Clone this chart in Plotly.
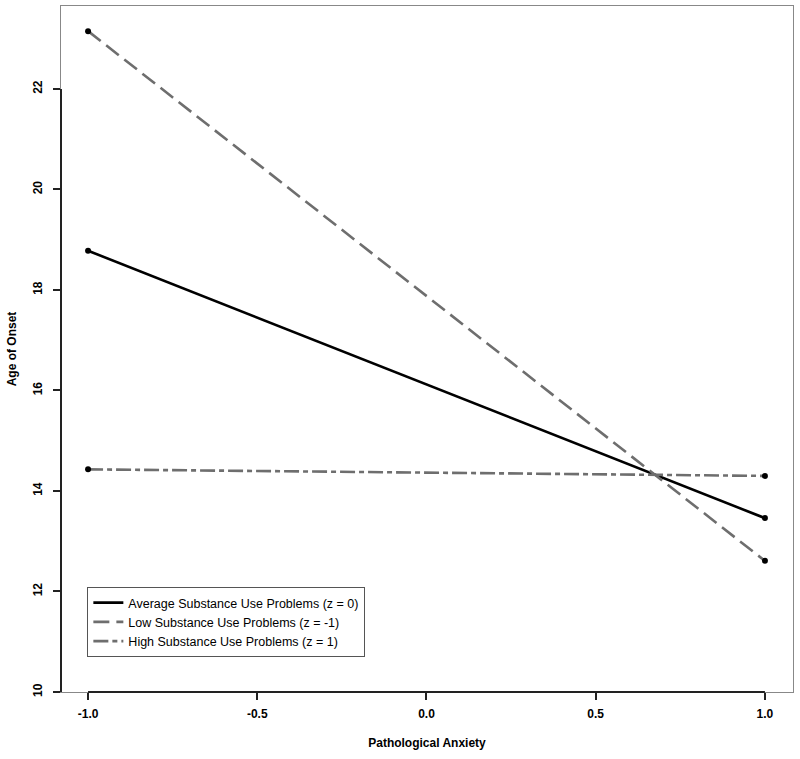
import plotly.graph_objects as go

x_vals = [-1.0, 1.0]
avg_vals = [18.78, 13.46]
low_vals = [23.15, 12.61]
high_vals = [14.43, 14.30]
series_names = ["Average Substance Use Problems (z = 0)",
                "Low Substance Use Problems (z = -1)",
                "High Substance Use Problems (z = 1)"]
x_ticks = [-1.0, -0.5, 0.0, 0.5, 1.0]
x_ticklabels = ["-1.0", "-0.5", "0.0", "0.5", "1.0"]
y_ticks = [10, 12, 14, 16, 18, 20, 22]
y_ticklabels = ["10", "12", "14", "16", "18", "20", "22"]

FONT = "Liberation Sans, Arial, sans-serif"

fig = go.Figure()
styles = [
    dict(color="#000000", width=2.6, dash="solid"),
    dict(color="#6e6e6e", width=2.6, dash="16px,7px"),
    dict(color="#6e6e6e", width=2.6, dash="15px,4px,5px,4px"),
]
for name, vals, st in zip(series_names, [avg_vals, low_vals, high_vals], styles):
    fig.add_trace(go.Scatter(
        x=x_vals, y=vals, name=name, mode="lines",
        line=st))
for vals in [avg_vals, low_vals, high_vals]:
    fig.add_trace(go.Scatter(
        x=x_vals, y=vals, mode="markers", showlegend=False,
        marker=dict(color="black", size=6), hoverinfo="skip"))

# R-style axis lines spanning first to last tick
fig.add_shape(type="line", xref="x", yref="paper", x0=x_ticks[0], x1=x_ticks[-1], y0=0, y1=0,
              line=dict(color="#222", width=2))
fig.add_shape(type="line", xref="paper", yref="y", x0=0, x1=0, y0=y_ticks[0], y1=y_ticks[-1],
              line=dict(color="#222", width=2))

fig.update_layout(
    width=800, height=759,
    margin=dict(l=61, r=7, t=6, b=67),
    paper_bgcolor="white", plot_bgcolor="white",
    font=dict(family=FONT, color="black"),
    showlegend=True,
    legend=dict(
        x=0.036, y=0.153, xanchor="left", yanchor="top",
        bordercolor="#555", borderwidth=1, bgcolor="white",
        font=dict(size=12.5, family=FONT), tracegroupgap=0,
        itemwidth=30,
    ),
    xaxis=dict(
        range=[-1.08, 1.083], showgrid=False, zeroline=False, automargin=False,
        showline=True, mirror=True, linecolor="#888", linewidth=1,
        tickvals=x_ticks, ticktext=["<b>%s</b>" % t for t in x_ticklabels],
        ticks="outside", ticklen=7, tickcolor="#222", tickwidth=2,
        tickfont=dict(size=12, family=FONT), ticklabelstandoff=4,
        title=dict(text="<b>Pathological Anxiety</b>", font=dict(size=12, family=FONT), standoff=18),
    ),
    yaxis=dict(
        range=[10, 23.65], showgrid=False, zeroline=False, automargin=False,
        showline=True, mirror=True, linecolor="#888", linewidth=1,
        tickvals=y_ticks, ticktext=["<b>%s</b>" % t for t in y_ticklabels],
        ticks="outside", ticklen=7, tickcolor="#222", tickwidth=2,
        tickangle=-90, ticklabelstandoff=6,
        tickfont=dict(size=12, family=FONT),
        title=dict(text="<b>Age of Onset</b>", font=dict(size=12, family=FONT), standoff=12),
    ),
)

fig.write_html("out.html", config={"displayModeBar": False},
               post_script="document.body.style.margin='0';")
